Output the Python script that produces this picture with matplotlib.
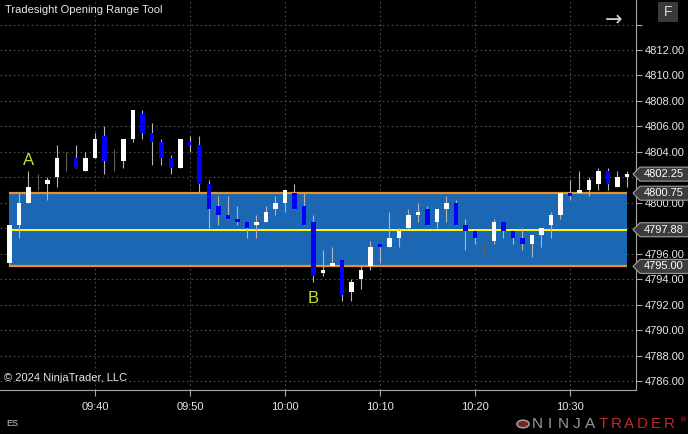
import matplotlib.pyplot as plt
import matplotlib.transforms as mtransforms
from matplotlib.patches import Rectangle, Polygon, Circle
import numpy as np

BG = 'black'
UP_COLOR = 'white'
DOWN_COLOR = '#0000ff'
WICK_COLOR = '#b4b4b4'
DOJI_COLOR = '#5e5e5e'
RANGE_FILL = '#1c67b3'
RANGE_EDGE = '#e8922a'
MID_COLOR = '#ffff00'
AXIS_COLOR = '#a8a8a8'
TEXT_COLOR = '#e6e6e6'
FONT = ['Liberation Sans Narrow', 'Liberation Sans', 'DejaVu Sans']

plt.rcParams['font.family'] = FONT

# 1-minute bars, 09:31 .. 10:36
opens = [4795.25, 4798.25, 4800.00, 4801.50, 4801.50, 4802.00, 4803.25, 4803.50, 4802.50, 4803.50,
         4805.25, 4803.50, 4803.25, 4805.00, 4807.00, 4805.50, 4804.75, 4803.50, 4802.75, 4804.75,
         4804.50, 4801.50, 4799.75, 4799.00, 4798.75, 4798.50, 4798.25, 4798.50, 4799.50, 4800.00,
         4800.75, 4799.75, 4798.50, 4794.50, 4795.00, 4795.50, 4793.00, 4794.00, 4795.00, 4796.75,
         4796.50, 4797.25, 4798.00, 4799.00, 4799.50, 4798.50, 4799.50, 4800.00, 4798.25, 4797.75,
         4796.50, 4797.00, 4798.50, 4797.75, 4797.25, 4796.75, 4797.50, 4798.25, 4799.00, 4800.75,
         4800.75, 4801.00, 4801.50, 4802.50, 4801.25, 4802.00]
highs = [4798.25, 4800.75, 4802.50, 4802.25, 4802.00, 4804.50, 4804.00, 4804.50, 4804.00, 4805.50,
         4806.00, 4804.25, 4805.00, 4807.25, 4807.25, 4806.25, 4805.00, 4803.75, 4805.00, 4805.25,
         4805.25, 4801.75, 4800.50, 4800.50, 4799.75, 4798.50, 4799.00, 4799.75, 4800.50, 4801.00,
         4801.50, 4800.75, 4799.00, 4796.25, 4796.50, 4795.50, 4794.00, 4795.00, 4797.00, 4796.75,
         4799.25, 4798.00, 4799.50, 4800.00, 4799.75, 4799.50, 4800.50, 4800.25, 4798.75, 4797.75,
         4797.00, 4798.75, 4798.50, 4797.75, 4798.00, 4797.50, 4798.00, 4799.25, 4800.75, 4801.75,
         4802.50, 4802.00, 4802.75, 4802.75, 4802.50, 4802.50]
lows = [4795.00, 4797.25, 4800.00, 4801.00, 4800.25, 4801.25, 4802.50, 4802.75, 4802.50, 4803.50,
        4802.25, 4802.50, 4802.75, 4804.75, 4805.00, 4803.00, 4803.00, 4802.25, 4802.75, 4804.00,
        4800.75, 4798.00, 4798.25, 4798.75, 4798.25, 4797.25, 4797.25, 4798.50, 4799.00, 4799.25,
        4799.50, 4798.25, 4793.75, 4794.25, 4795.00, 4792.25, 4792.25, 4793.25, 4794.75, 4795.25,
        4796.50, 4796.50, 4798.00, 4798.50, 4798.25, 4798.00, 4798.50, 4798.25, 4796.25, 4796.75,
        4795.75, 4796.75, 4797.25, 4796.75, 4796.25, 4795.75, 4796.50, 4797.25, 4798.75, 4800.25,
        4800.75, 4800.50, 4801.00, 4801.00, 4801.25, 4801.25]
closes = [4798.25, 4800.00, 4801.25, 4801.50, 4801.75, 4803.50, 4803.25, 4802.75, 4803.50, 4805.00,
          4803.25, 4803.50, 4805.00, 4807.25, 4805.50, 4804.75, 4803.50, 4802.75, 4805.00, 4804.50,
          4801.50, 4799.50, 4799.00, 4798.75, 4798.50, 4798.00, 4798.50, 4799.25, 4800.00, 4801.00,
          4799.50, 4798.25, 4794.25, 4794.75, 4795.25, 4792.75, 4793.75, 4794.75, 4796.50, 4796.50,
          4797.25, 4797.75, 4799.00, 4799.25, 4798.25, 4799.50, 4800.00, 4798.25, 4797.75, 4797.25,
          4796.50, 4798.50, 4797.75, 4797.25, 4796.75, 4797.50, 4798.00, 4799.00, 4800.75, 4800.50,
          4801.00, 4801.75, 4802.50, 4801.50, 4802.00, 4802.25]

first_bar_minute = 9 * 60 + 31
time_ticks = ['09:40', '09:50', '10:00', '10:10', '10:20', '10:30']

or_high = 4800.75
or_low = 4795.00
or_mid = 4797.88

price_ticks = [4786, 4788, 4790, 4792, 4794, 4796, 4798, 4800, 4802, 4804, 4806, 4808, 4810, 4812, 4814]
# labels hidden behind the price markers in the original
hidden_ticks = [4798, 4802, 4814]

o = np.array(opens)
h = np.array(highs)
l = np.array(lows)
c = np.array(closes)
x = np.arange(len(o))

fig = plt.figure(figsize=(6.88, 4.34), dpi=100, facecolor=BG)
ax = fig.add_axes([0, 44 / 434, 636 / 688, 390 / 434])
ax.set_facecolor(BG)

# opening range box
ax.add_patch(Rectangle((0, or_low), x[-1], or_high - or_low,
                       facecolor=RANGE_FILL, edgecolor='none', zorder=1))
ax.hlines([or_high, or_low], 0, x[-1], color=RANGE_EDGE, linewidth=1.6, zorder=2)
ax.hlines(or_mid, 0, x[-1], color=MID_COLOR, linewidth=1.4, zorder=2)

# candles
doji = o == c
up = c > o
wick_cols = [DOJI_COLOR if d else WICK_COLOR for d in doji]
ax.vlines(x, l, h, colors=wick_cols, linewidth=0.8, zorder=3)
body_cols = [UP_COLOR if u else DOWN_COLOR for u in up]
ax.bar(x[~doji], (c - o)[~doji], bottom=o[~doji], width=0.52,
       color=np.array(body_cols)[~doji], edgecolor='none', zorder=4)

ax.text(2, 4803.3, 'A', color='#cadd2e', fontsize=12, ha='center', va='center',
        family=['Liberation Sans', 'DejaVu Sans'], zorder=5)
ax.text(32, 4792.5, 'B', color='#cadd2e', fontsize=12, ha='center', va='center',
        family=['Liberation Sans', 'DejaVu Sans'], zorder=5)

# axes
ax.set_xlim(-1.0, 65.95)
ax.set_ylim(4785.29, 4815.93)
tick_pos = [int(t[:2]) * 60 + int(t[3:]) - first_bar_minute for t in time_ticks]
ax.set_xticks(tick_pos)
ax.set_xticklabels(time_ticks)
ax.set_yticks(price_ticks)
ax.set_yticklabels(['' if p in hidden_ticks else f'{p:.2f}' for p in price_ticks])
ax.yaxis.tick_right()
for s in ['top', 'left']:
    ax.spines[s].set_visible(False)
for s in ['right', 'bottom']:
    ax.spines[s].set_color(AXIS_COLOR)
    ax.spines[s].set_linewidth(0.8)
ax.tick_params(axis='both', colors=AXIS_COLOR, labelcolor=TEXT_COLOR, length=4,
               width=0.8, labelsize=8)
ax.tick_params(axis='x', pad=5)
ax.tick_params(axis='y', pad=2)
ax.grid(True, color='#4a4a4a', linestyle=(0, (1.5, 2.5)), linewidth=0.8)
ax.set_axisbelow(True)

# price markers on the right axis
trans = mtransforms.blended_transform_factory(ax.transAxes, ax.transData)
upp = 1 / 12.73  # price units per pixel
fx = 1 / 636      # axes fraction per pixel
for price in [closes[-1], or_high, or_mid, or_low]:
    hh = 7 * upp
    pts = [(633 * fx, price), (640 * fx, price + hh), (690 * fx, price + hh),
           (690 * fx, price - hh), (640 * fx, price - hh)]
    ax.add_patch(Polygon(pts, closed=True, transform=trans, facecolor='#3c3c3c',
                         edgecolor='#a0a0a0', linewidth=0.8, clip_on=False, zorder=10))
    ax.text(664 * fx, price, f'{price:.2f}', transform=trans, color='white', fontsize=8,
            ha='center', va='center', clip_on=False, zorder=11)

# chart decorations
fig.text(5 / 688, 1 - 10 / 434, 'Tradesight Opening Range Tool', color=TEXT_COLOR,
         fontsize=8, ha='left', va='center')
fig.text(4 / 688, 1 - 378 / 434, '\u00a9 2024 NinjaTrader, LLC', color=TEXT_COLOR,
         fontsize=8, ha='left', va='center')
fig.text(6 / 688, 1 - 423 / 434, 'ES', color='#c8c8c8', fontsize=6.5, ha='left', va='center')
fig.text(614 / 688, 1 - 20 / 434, '\u2192', color='#d0d0d0', fontsize=15, ha='center',
         va='center', family=['DejaVu Sans'])
fig.patches.append(Rectangle((658 / 688, 1 - 22 / 434), 20 / 688, 20 / 434,
                             transform=fig.transFigure, facecolor='#3a3a3a',
                             edgecolor='none'))
fig.text(668 / 688, 1 - 12 / 434, 'F', color='#d8d8d8', fontsize=10, ha='center', va='center',
         family=['Liberation Sans', 'DejaVu Sans'])

# logo
fig.patches.append(Circle((523 / 688, 1 - 424 / 434), 6 / 688, transform=fig.transFigure,
                          facecolor='#7a2020', edgecolor='#9a9a9a', linewidth=1.2))
for i, ch in enumerate('NINJATRADER'):
    fig.text((537 + i * 13.2) / 688, 1 - 424 / 434, ch,
             color='#9a9a9a' if i < 5 else '#c4262e', fontsize=11, ha='center',
             va='center', family=['Liberation Sans', 'DejaVu Sans'])
fig.text(684 / 688, 1 - 420 / 434, '\u00ae', color='#c4262e', fontsize=5, ha='center',
         va='center', family=['DejaVu Sans'])

fig.savefig('out.png', dpi=100, facecolor=BG)
